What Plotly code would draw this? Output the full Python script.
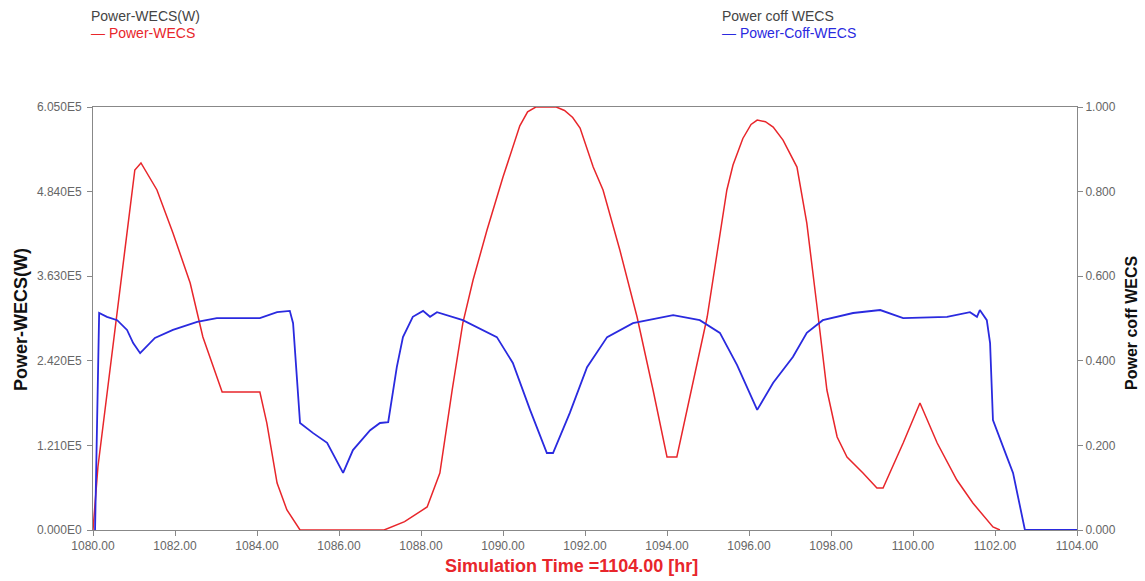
import plotly.graph_objects as go

# ---- data ----
time_power = [1080.00, 1080.12, 1081.02, 1081.17, 1081.56, 1081.95, 1082.37, 1082.68, 1083.15,
              1084.07, 1084.24, 1084.49, 1084.73, 1085.05, 1087.10, 1087.60, 1088.15, 1088.46,
              1088.76, 1089.02, 1089.27, 1089.61, 1090.00, 1090.41, 1090.60, 1090.80, 1091.30,
              1091.50, 1091.70, 1091.88, 1092.20, 1092.44, 1092.85, 1093.27, 1093.66, 1094.00,
              1094.24, 1094.63, 1094.98, 1095.46, 1095.61, 1095.85, 1096.05, 1096.20, 1096.40,
              1096.59, 1096.83, 1097.17, 1097.41, 1097.66, 1097.90, 1098.15, 1098.39, 1098.78,
              1099.12, 1099.27, 1099.76, 1100.17, 1100.59, 1101.07, 1101.46, 1101.95, 1102.12]
power_wecs = [0, 90100, 514900, 525000, 486300, 424800, 353300, 276000, 197400,
              197400, 153000, 67200, 28600, 0, 0, 12000, 32900, 81500,
              200200, 296000, 357500, 429000, 504800, 578000, 598000, 605000, 605000,
              600000, 590000, 575000, 519100, 486300, 400400, 304600, 200200, 104400,
              104400, 210200, 304600, 486300, 522000, 560000, 580000, 586300, 584000,
              576300, 557700, 519100, 439000, 318900, 200200, 133000, 104400, 81500,
              60100, 60100, 124400, 181600, 124400, 71500, 38600, 4300, 0]

time_coff = [1080.05, 1080.15, 1080.34, 1080.59, 1080.83, 1080.98, 1081.15, 1081.51, 1081.95,
             1082.54, 1083.02, 1084.07, 1084.49, 1084.80, 1084.88, 1085.05, 1085.37, 1085.71,
             1086.10, 1086.34, 1086.76, 1087.00, 1087.20, 1087.41, 1087.56, 1087.80, 1088.05,
             1088.22, 1088.39, 1089.02, 1089.85, 1090.24, 1090.66, 1091.07, 1091.22, 1091.63,
             1092.05, 1092.54, 1093.17, 1094.15, 1094.80, 1095.29, 1095.71, 1096.20, 1096.59,
             1097.07, 1097.41, 1097.80, 1098.54, 1099.20, 1099.76, 1100.83, 1101.39, 1101.56,
             1101.63, 1101.80, 1101.88, 1101.95, 1102.29, 1102.44, 1102.73, 1104.00]
power_coff = [0, 0.513, 0.504, 0.496, 0.473, 0.442, 0.418, 0.454, 0.473,
              0.492, 0.501, 0.501, 0.515, 0.518, 0.489, 0.253, 0.229, 0.206,
              0.135, 0.189, 0.236, 0.253, 0.255, 0.385, 0.456, 0.504, 0.518,
              0.504, 0.515, 0.496, 0.456, 0.395, 0.284, 0.182, 0.182, 0.277,
              0.385, 0.456, 0.489, 0.508, 0.496, 0.466, 0.390, 0.284, 0.348,
              0.409, 0.466, 0.496, 0.513, 0.520, 0.501, 0.504, 0.515, 0.504,
              0.520, 0.496, 0.442, 0.260, 0.173, 0.135, 0, 0]

x_ticks = [1080, 1082, 1084, 1086, 1088, 1090, 1092, 1094, 1096, 1098, 1100, 1102, 1104]
x_tick_text = ["1080.00", "1082.00", "1084.00", "1086.00", "1088.00", "1090.00", "1092.00",
               "1094.00", "1096.00", "1098.00", "1100.00", "1102.00", "1104.00"]
y1_ticks = [0, 121000, 242000, 363000, 484000, 605000]
y1_tick_text = ["0.000E0", "1.210E5", "2.420E5", "3.630E5", "4.840E5", "6.050E5"]
y2_ticks = [0, 0.2, 0.4, 0.6, 0.8, 1.0]
y2_tick_text = ["0.000", "0.200", "0.400", "0.600", "0.800", "1.000"]

RED = "#e8262b"
BLUE = "#2a2adf"
TICK_COLOR = "#666666"
FONT = "Liberation Sans, Arial, sans-serif"

fig = go.Figure()
fig.add_trace(go.Scatter(x=time_power, y=power_wecs, mode="lines", name="Power-WECS",
                         line=dict(color=RED, width=1.5), yaxis="y"))
fig.add_trace(go.Scatter(x=time_coff, y=power_coff, mode="lines", name="Power-Coff-WECS",
                         line=dict(color=BLUE, width=1.8), yaxis="y2"))

W, H = 1145, 581
L, R, T, B = 93, 68, 107, 51

axis_common = dict(showline=True, linecolor="#888888", linewidth=1, ticks="outside",
                   ticklen=5, tickcolor="#888888", showgrid=False, zeroline=False,
                   automargin=False,
                   tickfont=dict(family=FONT, size=12, color=TICK_COLOR))

fig.update_layout(
    width=W, height=H,
    margin=dict(l=L, r=R, t=T, b=B, autoexpand=False),
    paper_bgcolor="white", plot_bgcolor="white",
    showlegend=False,
    font=dict(family=FONT),
    xaxis=dict(range=[1080, 1104], tickvals=x_ticks, ticktext=x_tick_text, mirror=True,
               **axis_common),
    yaxis=dict(range=[0, 605000], tickvals=y1_ticks, ticktext=y1_tick_text,
               ticklabelstandoff=3, **axis_common),
    yaxis2=dict(range=[0, 1.0], tickvals=y2_ticks, ticktext=y2_tick_text, overlaying="y",
                side="right", **axis_common),
)

def px_x(p):
    return (p - L) / (W - L - R)

def px_y(p):
    return 1 - (p - T) / (H - T - B)

# axis titles
fig.add_annotation(x=px_x(571), y=px_y(566), xref="paper", yref="paper",
                   text="<b>Simulation Time =1104.00 [hr]</b>", showarrow=False,
                   xanchor="center", yanchor="middle",
                   font=dict(family=FONT, size=18, color=RED))
fig.add_annotation(x=px_x(21), y=px_y(320), xref="paper", yref="paper",
                   text="<b>Power-WECS(W)</b>", showarrow=False, textangle=-90,
                   xanchor="center", yanchor="middle",
                   font=dict(family=FONT, size=18, color="#111111"))
fig.add_annotation(x=px_x(1131), y=px_y(323), xref="paper", yref="paper",
                   text="<b>Power coff WECS</b>", showarrow=False, textangle=-90,
                   xanchor="center", yanchor="middle",
                   font=dict(family=FONT, size=16, color="#111111"))

legend_items = [
    (89, "Power-WECS(W)", "Power-WECS", RED),
    (720, "Power coff WECS", "Power-Coff-WECS", BLUE),
]
for x0, title, label, col in legend_items:
    fig.add_annotation(x=px_x(x0), y=px_y(16), xref="paper", yref="paper",
                       text=title, showarrow=False, xanchor="left", yanchor="middle",
                       font=dict(family=FONT, size=14, color="#444444"))
    fig.add_annotation(x=px_x(x0), y=px_y(33), xref="paper", yref="paper",
                       text="<span style='color:" + col + "'>\u2014 " + label + "</span>",
                       showarrow=False, xanchor="left", yanchor="middle",
                       font=dict(family=FONT, size=14, color=col))

fig.write_html("out.html")
